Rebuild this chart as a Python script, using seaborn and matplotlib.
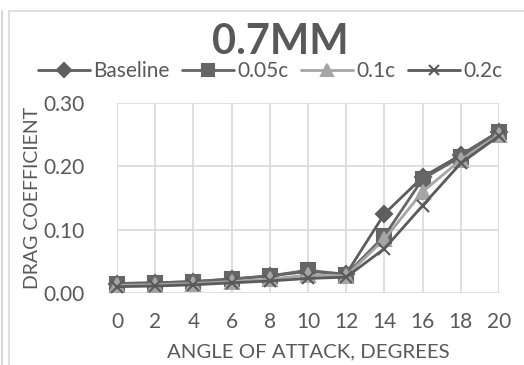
import matplotlib
matplotlib.use("Agg")
import matplotlib.pyplot as plt
from matplotlib.lines import Line2D
import seaborn as sns
import pandas as pd

# Drag coefficient vs angle of attack, 0.7 mm case
angles = [0, 2, 4, 6, 8, 10, 12, 14, 16, 18, 20]
baseline = [0.015, 0.016, 0.018, 0.022, 0.027, 0.034, 0.030, 0.125, 0.183, 0.218, 0.255]
c005 = [0.015, 0.016, 0.018, 0.022, 0.027, 0.036, 0.029, 0.090, 0.180, 0.215, 0.255]
c01 = [0.012, 0.013, 0.015, 0.018, 0.022, 0.028, 0.027, 0.085, 0.160, 0.210, 0.250]
c02 = [0.010, 0.011, 0.013, 0.016, 0.019, 0.023, 0.025, 0.070, 0.138, 0.205, 0.248]
series_names = ["Baseline", "0.05c", "0.1c", "0.2c"]
x_ticks = [0, 2, 4, 6, 8, 10, 12, 14, 16, 18, 20]
y_ticks = [0.0, 0.1, 0.2, 0.3]

frames = []
for name, vals in zip(series_names, [baseline, c005, c01, c02]):
    frames.append(pd.DataFrame({"angle": angles, "cd": vals, "series": name}))
df = pd.concat(frames, ignore_index=True)

sns.set_theme(style="white")
plt.rcParams["font.family"] = ["Lato", "DejaVu Sans"]

text_col = "#595959"
grid_col = "#d9d9d9"
palette = {"Baseline": "#5e5e5e", "0.05c": "#666666", "0.1c": "#a5a5a5", "0.2c": "#5a5a5a"}
markers = {"Baseline": "D", "0.05c": "s", "0.1c": "^", "0.2c": "x"}
msize = {"Baseline": 8.5, "0.05c": 10, "0.1c": 9.5, "0.2c": 8}

fig = plt.figure(figsize=(5.24, 3.65), dpi=100)
ax = fig.add_axes([117 / 524, 1 - 293 / 365, 382 / 524, 190 / 365])

for name in series_names:
    sub = df[df["series"] == name]
    sns.lineplot(data=sub, x="angle", y="cd", color=palette[name],
                 marker=markers[name], ax=ax, linewidth=2.0, markersize=msize[name],
                 markeredgewidth=1.5, markeredgecolor=palette[name], legend=False)

ax.set_xlim(0, 20)
ax.set_ylim(0, 0.30)
ax.set_xticks(x_ticks)
ax.set_yticks(y_ticks)
ax.set_yticklabels([f"{v:.2f}" for v in y_ticks])
ax.grid(True, color=grid_col, linewidth=1.2)
ax.set_axisbelow(True)
for s in ax.spines.values():
    s.set_visible(False)
ax.tick_params(axis="both", length=0, labelsize=15, colors=text_col)
ax.tick_params(axis="x", pad=14)
ax.tick_params(axis="y", pad=23)
for line in ax.get_lines():
    line.set_clip_on(False)

ax.set_xlabel("ANGLE OF ATTACK, DEGREES", fontsize=14.7, color=text_col)
ax.set_ylabel("DRAG COEFFICIENT", fontsize=14, color=text_col)
ax.xaxis.set_label_coords(0.5, -0.265)
ax.yaxis.set_label_coords(-0.198, 0.5)

fig.text(280 / 524, 1 - 42 / 365, "0.7MM", ha="center", va="center",
         fontsize=30, fontweight="bold", color=text_col)

handles = [Line2D([], [], color=palette[n], marker=markers[n], linewidth=2.0,
                  markersize=msize[n] - 1, markeredgewidth=1.5) for n in series_names]
fig.legend(handles, series_names, loc="center", bbox_to_anchor=(270 / 524, 1 - 71 / 365),
           ncol=4, frameon=False, fontsize=15, handlelength=2.5, handletextpad=0.15,
           columnspacing=0.6, labelcolor=text_col, borderaxespad=0, borderpad=0)

# chart frame
fig.add_artist(Line2D([9 / 524, 9 / 524], [0, 1 - 11 / 365], color=grid_col,
                      linewidth=1.2, transform=fig.transFigure))
fig.add_artist(Line2D([9 / 524, 1], [1 - 11 / 365, 1 - 11 / 365], color=grid_col,
                      linewidth=1.2, transform=fig.transFigure))
fig.add_artist(Line2D([2 / 524, 2 / 524], [0, 1 - 11 / 365], color="#cfcfcf",
                      linewidth=1.2, transform=fig.transFigure))

fig.savefig("out.png", dpi=100)
